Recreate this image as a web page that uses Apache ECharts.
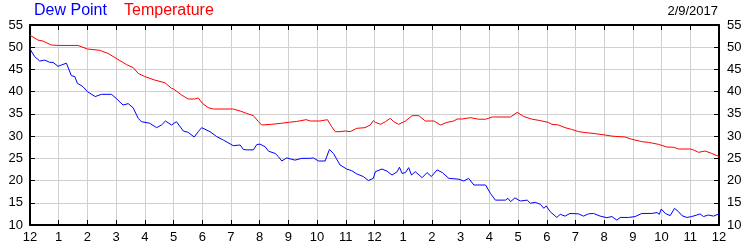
<!DOCTYPE html>
<html>
<head>
<meta charset="utf-8">
<script src="https://cdn.jsdelivr.net/npm/echarts@6/dist/echarts.min.js"></script>
<style>html,body{margin:0;padding:0;background:#fff;}#c{width:750px;height:250px;}</style>
</head>
<body>
<div id="c"></div>
<script>
var hourLabels = ['12','1','2','3','4','5','6','7','8','9','10','11','12','1','2','3','4','5','6','7','8','9','10','11','12'];
var yTicks = [10, 15, 20, 25, 30, 35, 40, 45, 50, 55];
var dateText = '2/9/2017';
var seriesNames = ['Dew Point', 'Temperature'];

var tempHours = [0,0.28,0.45,0.74,1.0,1.67,2.0,2.43,2.72,3.0,3.36,3.6,3.77,4.0,4.35,4.7,4.93,5.0,5.28,5.51,5.74,5.86,6.0,
  6.21,6.39,7.08,7.32,7.55,7.78,7.96,8.07,8.42,8.77,9.0,9.29,9.62,9.76,10.1,10.36,10.51,10.63,10.8,10.98,11.15,11.38,11.67,11.85,11.96,
  12.03,12.21,12.38,12.55,12.67,12.84,13.08,13.31,13.54,13.77,14.07,14.3,14.53,14.76,14.88,15.05,15.34,15.63,15.87,16.1,16.74,16.97,17.2,17.49,17.72,18.05,
  18.18,18.41,18.64,18.87,19.11,19.34,19.69,20.03,20.27,20.73,20.96,21.31,21.54,21.89,22.18,22.42,22.59,23.0,23.11,23.29,23.52,23.75,24];
var tempValues = [52.7,51.6,51.4,50.5,50.4,50.4,49.6,49.3,48.6,47.5,46.1,45.4,44.1,43.4,42.6,42.0,40.75,40.6,39.25,38.35,38.35,38.6,37.4,
  36.4,36.1,36.1,35.65,35.1,34.6,33.25,32.5,32.65,32.9,33.1,33.3,33.7,33.4,33.4,33.7,32.1,31.0,31.0,31.15,31.0,31.75,31.9,32.5,33.5,
  33.1,32.65,33.25,34.0,33.25,32.65,33.4,34.6,34.6,33.4,33.4,32.5,33.1,33.4,33.85,33.85,34.15,33.8,33.8,34.3,34.3,35.35,34.4,33.8,33.55,33.1,
  32.65,32.5,31.9,31.5,31.0,30.8,30.55,30.25,30.0,29.8,29.3,28.75,28.6,28.15,27.55,27.5,27.1,27.1,26.9,26.35,26.65,26.1,25.4];

var dewHours = [0,0.16,0.34,0.51,0.69,0.8,0.98,1.09,1.27,1.33,1.44,1.56,1.65,1.85,2.0,2.27,2.49,2.84,3.0,3.24,3.42,3.59,3.77,3.88,4.17,4.41,4.58,4.72,4.93,5.1,5.34,5.51,5.72,5.86,5.98,
  6.04,6.27,6.5,6.74,7.08,7.32,7.43,7.55,7.78,7.9,8.01,8.19,8.31,8.54,8.65,8.77,8.94,9.23,9.47,9.76,9.87,10.05,10.28,10.43,10.57,10.8,11.03,11.21,11.38,11.61,11.79,11.96,
  12.03,12.26,12.44,12.61,12.79,12.87,12.96,13.08,13.19,13.29,13.42,13.66,13.83,13.98,14.18,14.36,14.59,14.94,15.11,15.28,15.46,15.87,16.04,16.21,16.56,16.65,16.74,16.89,17.08,17.32,17.43,17.6,17.78,17.9,17.98,
  18.12,18.35,18.47,18.64,18.81,19.11,19.28,19.45,19.63,19.86,20.09,20.27,20.44,20.56,20.85,21.08,21.31,21.66,21.84,21.92,21.99,22.13,22.3,22.45,22.59,22.71,22.88,23.05,23.23,23.34,23.46,23.63,23.81,24];
var dewValues = [49.6,47.9,46.9,47.1,46.6,46.6,45.7,46.0,46.4,46.0,43.6,43.4,41.9,41.1,40.0,38.9,39.4,39.4,38.5,37.0,37.3,36.4,34.0,33.25,32.9,31.9,32.5,33.4,32.5,33.25,31.15,30.85,29.8,31.0,31.9,
  31.9,31.0,29.9,29.1,27.85,28.0,27.0,26.9,26.9,28.1,28.2,27.6,26.6,26.1,25.4,24.4,25.1,24.6,25.0,25.0,25.1,24.4,24.4,27.0,26.1,23.5,22.6,22.2,21.5,20.9,20.0,20.5,
  22.0,22.6,22.1,21.25,22.0,23.0,21.6,21.8,22.9,21.25,22.0,20.65,21.8,20.9,22.4,21.8,20.5,20.3,19.9,20.5,19.0,19.0,17.1,15.6,15.6,16.0,15.25,16.1,15.4,15.6,14.9,15.1,14.65,13.75,14.3,
  13.0,11.7,12.4,12.0,12.6,12.5,12.0,12.5,12.6,12.0,11.65,11.9,11.1,11.7,11.7,11.9,12.6,12.6,12.8,12.4,13.6,12.6,12.1,13.75,13.0,12.1,11.7,11.9,12.25,12.5,11.9,12.25,12.0,12.5];

function zip(xs, ys) { var out = []; for (var i = 0; i < xs.length; i++) out.push([xs[i], ys[i]]); return out; }

var FONT = 'Liberation Sans, Arial, sans-serif';
var chart = echarts.init(document.getElementById('c'), null, {renderer: 'canvas'});
var axisLineStyle = {color: '#000', width: 2};
var option = {
  animation: false,
  backgroundColor: '#fff',
  grid: {left: 30, right: 31, top: 25, bottom: 25, containLabel: false},
  graphic: [
    {type: 'text', left: 34, top: 3, style: {text: seriesNames[0], fill: '#0000ff', font: '16px ' + FONT}},
    {type: 'text', left: 124, top: 3, style: {text: seriesNames[1], fill: '#ff0000', font: '16px ' + FONT}},
    {type: 'text', right: 32, top: 5, style: {text: dateText, fill: '#000', font: '13px ' + FONT}}
  ],
  xAxis: [
    {type: 'value', min: 0, max: 24, interval: 1, position: 'bottom',
     axisLine: {show: true, onZero: false, lineStyle: axisLineStyle},
     axisTick: {show: true, inside: true, length: 5, lineStyle: {color: '#000', width: 1}},
     axisLabel: {show: true, margin: 6, color: '#000', fontSize: 13, fontFamily: FONT,
                 showMinLabel: true, showMaxLabel: true,
                 formatter: function (v) { return hourLabels[Math.round(v)]; }},
     splitLine: {show: true, lineStyle: {color: '#d0d0d0', width: 1}}},
    {type: 'value', min: 0, max: 24, interval: 1, position: 'top',
     axisLine: {show: true, onZero: false, lineStyle: axisLineStyle},
     axisTick: {show: true, inside: true, length: 5, lineStyle: {color: '#000', width: 1}},
     axisLabel: {show: false}, splitLine: {show: false}}
  ],
  yAxis: [
    {type: 'value', min: yTicks[0], max: yTicks[yTicks.length - 1], interval: 5, position: 'left',
     axisLine: {show: true, onZero: false, lineStyle: axisLineStyle},
     axisTick: {show: true, inside: true, length: 5, lineStyle: {color: '#000', width: 1}},
     axisLabel: {show: true, margin: 7, color: '#000', fontSize: 13, fontFamily: FONT, showMinLabel: true, showMaxLabel: true},
     splitLine: {show: true, lineStyle: {color: '#d0d0d0', width: 1}}},
    {type: 'value', min: yTicks[0], max: yTicks[yTicks.length - 1], interval: 5, position: 'right',
     axisLine: {show: true, onZero: false, lineStyle: axisLineStyle},
     axisTick: {show: true, inside: true, length: 5, lineStyle: {color: '#000', width: 1}},
     axisLabel: {show: true, margin: 8, color: '#000', fontSize: 13, fontFamily: FONT, showMinLabel: true, showMaxLabel: true},
     splitLine: {show: false}}
  ],
  series: [
    {name: seriesNames[1], type: 'line', xAxisIndex: 0, yAxisIndex: 0, data: zip(tempHours, tempValues),
     showSymbol: false, symbol: 'none', lineStyle: {color: '#ff0000', width: 1}, z: 3},
    {name: seriesNames[0], type: 'line', xAxisIndex: 0, yAxisIndex: 0, data: zip(dewHours, dewValues),
     showSymbol: false, symbol: 'none', lineStyle: {color: '#0000ff', width: 1}, z: 4}
  ]
};
chart.setOption(option);
</script>
</body>
</html>
